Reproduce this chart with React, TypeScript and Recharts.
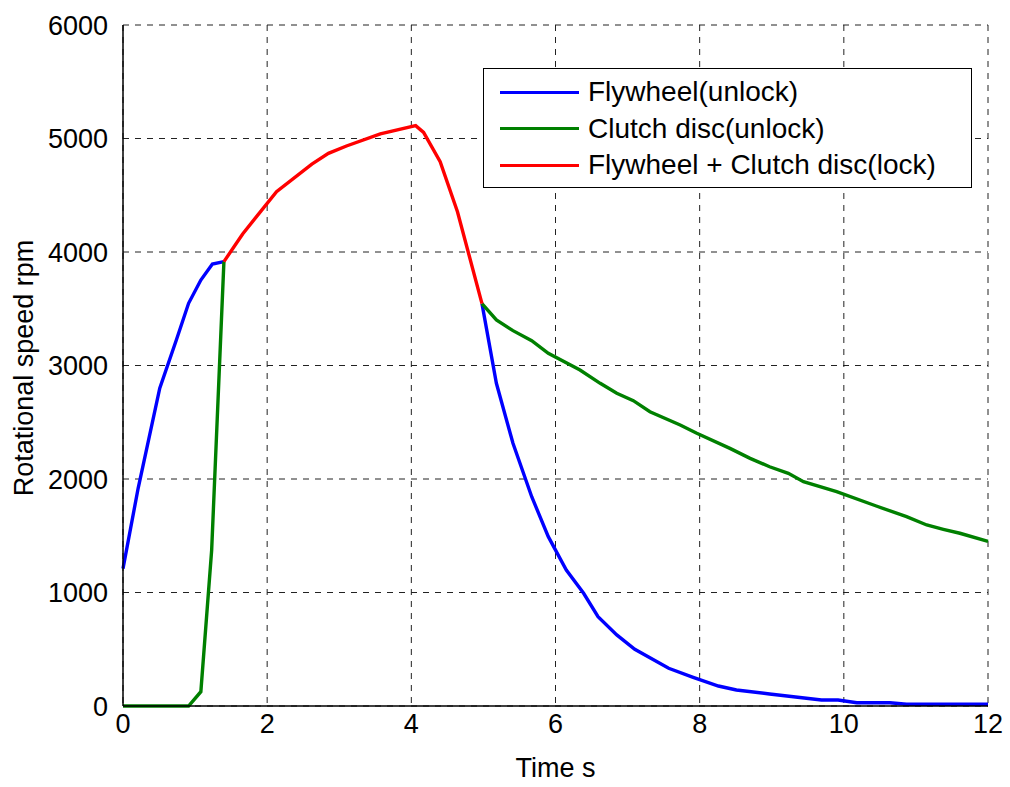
import type { FC } from "react";
import {
  LineChart,
  Line,
  XAxis,
  YAxis,
  CartesianGrid,
} from "recharts";

// time (s) / rpm; null marks a gap in the trace
const flywheelTime = [0, 0.21, 0.51, 0.74, 0.91, 1.08, 1.24, 1.4, 3, 4.98, 5.18, 5.41, 5.67, 5.9, 6.15, 6.39, 6.59, 6.85, 7.1, 7.57, 7.91, 8.26, 8.51, 8.97, 9.69, 9.92, 10.18, 10.64, 10.87, 12];
const flywheelRpm = [1210, 1918, 2800, 3225, 3548, 3753, 3894, 3915, null, 3545, 2843, 2315, 1844, 1492, 1198, 993, 787, 626, 500, 332, 253, 176, 141, 106, 53, 53, 29, 29, 15, 15];

const discTime = [0, 0.91, 1.08, 1.23, 1.4, 3, 4.98, 5.18, 5.41, 5.67, 5.9, 6.34, 6.62, 6.85, 7.08, 7.31, 7.73, 7.96, 8.42, 8.7, 8.97, 9.23, 9.44, 9.9, 10.45, 10.87, 11.15, 11.38, 11.61, 12];
const discRpm = [0, 0, 126, 1374, 3915, null, 3545, 3401, 3307, 3219, 3107, 2960, 2843, 2755, 2690, 2593, 2476, 2403, 2270, 2182, 2108, 2050, 1976, 1888, 1762, 1668, 1595, 1557, 1522, 1450];

const lockedTime = [1.4, 1.66, 2.13, 2.62, 2.85, 3.1, 3.57, 4.06, 4.17, 4.4, 4.64, 4.98];
const lockedRpm = [3915, 4159, 4532, 4775, 4869, 4934, 5040, 5113, 5054, 4796, 4355, 3545];

const seriesNames = ["Flywheel(unlock)", "Clutch disc(unlock)", "Flywheel + Clutch disc(lock)"];
const COLORS = ["#0000ff", "#008000", "#ff0000"];

const xTicks = [0, 2, 4, 6, 8, 10, 12];
const yTicks = [0, 1000, 2000, 3000, 4000, 5000, 6000];

const zip = (ts: number[], vs: (number | null)[]) =>
  ts.map((t, i) => ({ t, v: vs[i] }));

const FONT = "'Liberation Sans', Arial, sans-serif";
const FS = 27;

const LegendBox: FC = () => (
  <div
    style={{
      position: "absolute",
      left: 483,
      top: 68,
      border: "1.5px solid #000",
      background: "#fff",
      width: 489,
      height: 120,
      boxSizing: "border-box",
      padding: "5px 0 0 16px",
      fontFamily: FONT,
      fontSize: 28,
      color: "#000",
    }}
  >
    {seriesNames.map((name, i) => (
      <div key={name} style={{ display: "flex", alignItems: "center", height: 36.5 }}>
        <span style={{ width: 79, height: 3, background: COLORS[i], marginRight: 9 }} />
        <span style={{ display: "inline-block", lineHeight: "30px", height: 30 }}>{name}</span>
      </div>
    ))}
  </div>
);

export default function App() {
  const series = [
    zip(flywheelTime, flywheelRpm),
    zip(discTime, discRpm),
    zip(lockedTime, lockedRpm),
  ];
  return (
    <div style={{ position: "absolute", left: 0, top: 0, background: "#fff" }}>
      <LineChart
        width={1010}
        height={787}
        margin={{ top: 25, right: 22, bottom: 0, left: 0 }}
        style={{ fontFamily: FONT }}
      >
        <CartesianGrid stroke="#222" strokeDasharray="6 6" />
        <XAxis
          dataKey="t"
          type="number"
          domain={[0, 12]}
          ticks={xTicks}
          height={81}
          stroke="#000"
          strokeWidth={1.5}
          tickLine={false}
          tick={{ fill: "#000", fontSize: FS }}
          tickMargin={2}
          allowDuplicatedCategory={false}
          label={{ value: "Time s", position: "insideBottom", offset: 10, fill: "#000", fontSize: FS }}
        />
        <XAxis xAxisId="top" orientation="top" type="number" domain={[0, 12]} height={0} tick={false} tickLine={false} stroke="#000" strokeWidth={1.5} />
        <YAxis
          type="number"
          domain={[0, 6000]}
          ticks={yTicks}
          width={123}
          stroke="#000"
          strokeWidth={1.5}
          tickLine={false}
          tick={{ fill: "#000", fontSize: FS }}
          tickMargin={9}
          label={{
            value: "Rotational speed rpm",
            content: () => (
              <text
                x={24}
                y={368}
                transform="rotate(-90 24 368)"
                textAnchor="middle"
                dominantBaseline="central"
                fill="#000"
                fontSize={FS}
                fontFamily={FONT}
              >
                Rotational speed rpm
              </text>
            ),
          }}
        />
        <YAxis yAxisId="right" orientation="right" domain={[0, 6000]} width={0} tick={false} tickLine={false} stroke="#000" strokeWidth={1.5} />
        {series.map((d, i) => (
          <Line
            key={seriesNames[i]}
            data={d}
            dataKey="v"
            name={seriesNames[i]}
            stroke={COLORS[i]}
            strokeWidth={3.4}
            dot={false}
            activeDot={false}
            connectNulls={false}
            isAnimationActive={false}
          />
        ))}
      </LineChart>
      <LegendBox />
    </div>
  );
}
